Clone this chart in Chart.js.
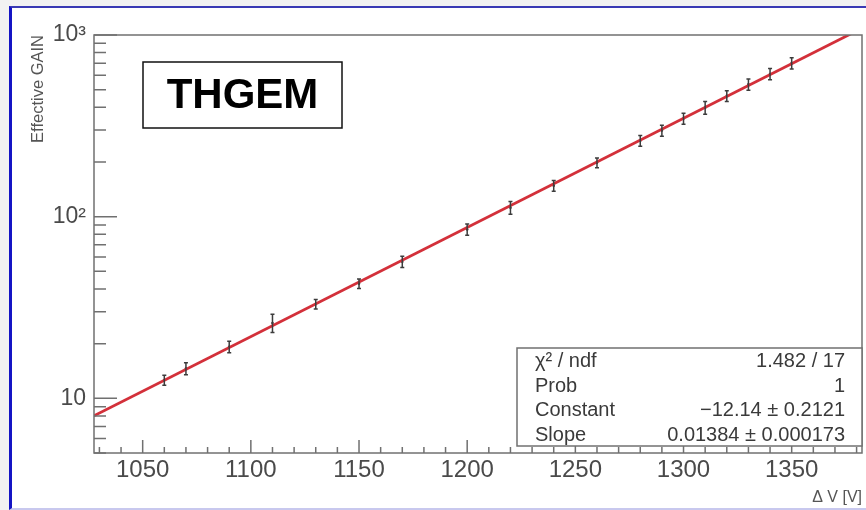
<!DOCTYPE html>
<html>
<head>
<meta charset="utf-8">
<script src="https://cdn.jsdelivr.net/npm/chart.js@4.4.1/dist/chart.umd.min.js"></script>
<style>
  html, body { margin: 0; padding: 0; background: #f2f2f2; }
  #page { position: absolute; left: 9px; top: 6px; width: 900px; height: 500px;
          background: #fff; border-left: 3px solid #1414c4; border-top: 2px solid #3a3ab4;
          border-bottom: 2px solid #c8c8ee; }
  #gain { position: absolute; left: 0; top: 0; }
</style>
</head>
<body>
<div id="page"></div>
<canvas id="gain" width="866" height="510"></canvas>
<script>
// measured gain vs. applied voltage
var voltages = [1060, 1070, 1090, 1110, 1130, 1150, 1170, 1200, 1220, 1240, 1260, 1280, 1290, 1300, 1310, 1320, 1330, 1340, 1350];
var gains = [12.6, 14.6, 19.2, 26.0, 33.0, 42.8, 56.5, 85, 112, 148, 198, 262, 298, 347, 398, 462, 535, 610, 700];
var gainErrors = [0.8, 1.1, 1.4, 3.0, 2.0, 2.6, 4.0, 6, 9, 10, 12, 18, 21, 24, 32, 32, 38, 43, 50];

// axis ticks
var xTickValues = [1050, 1100, 1150, 1200, 1250, 1300, 1350];
var yTickValues = [10, 100, 1000];
var yTickLabels = ['10', '10\u00b2', '10\u00b3'];

// exponential fit: gain = exp(constant + slope * V)
var fitConstant = -12.14;
var fitConstantErr = 0.2121;
var fitSlope = 0.01384;
var fitSlopeErr = 0.000173;
var fitChi2 = 1.482;
var fitNdf = 17;
var fitProb = 1;
var fitRange = [1027.5, 1382.5];

var FONT = "'Liberation Sans', Arial, Helvetica, sans-serif";
Chart.defaults.font.family = FONT;

var points = voltages.map(function (v, i) { return { x: v, y: gains[i] }; });
var fitLine = fitRange.map(function (v) { return { x: v, y: Math.exp(fitConstant + fitSlope * v) }; });

var statsLabels = ['\u03c7\u00b2 / ndf', 'Prob', 'Constant', 'Slope'];
var statsValues = [
  fitChi2.toFixed(3) + ' / ' + fitNdf,
  String(fitProb),
  '\u2212' + Math.abs(fitConstant).toFixed(2) + ' \u00b1 ' + fitConstantErr,
  fitSlope + ' \u00b1 ' + fitSlopeErr.toFixed(6)
];

// ROOT style frame, inner ticks, error bars, label and stats boxes
var rootStyle = {
  id: 'rootStyle',
  afterDatasetsDraw: function (chart) {
    var ctx = chart.ctx, x = chart.scales.x, y = chart.scales.y;
    ctx.save();
    ctx.strokeStyle = '#3c3c3c';
    ctx.lineWidth = 1.5;
    voltages.forEach(function (v, i) {
      var px = x.getPixelForValue(v);
      var top = y.getPixelForValue(gains[i] + gainErrors[i]);
      var bot = y.getPixelForValue(gains[i] - gainErrors[i]);
      ctx.beginPath();
      ctx.moveTo(px, top); ctx.lineTo(px, bot);
      ctx.moveTo(px - 2, top); ctx.lineTo(px + 2, top);
      ctx.moveTo(px - 2, bot); ctx.lineTo(px + 2, bot);
      ctx.stroke();
    });
    ctx.restore();
  },
  afterDraw: function (chart) {
    var ctx = chart.ctx, a = chart.chartArea, x = chart.scales.x, y = chart.scales.y;
    ctx.save();

    // frame
    ctx.strokeStyle = '#707070';
    ctx.lineWidth = 1.5;
    ctx.strokeRect(a.left, a.top, a.right - a.left, a.bottom - a.top);

    // x ticks every 10, long every 50
    ctx.beginPath();
    for (var v = 1030; v <= 1380; v += 10) {
      var px = x.getPixelForValue(v);
      var len = v % 50 === 0 ? 13 : 6;
      ctx.moveTo(px, a.bottom); ctx.lineTo(px, a.bottom - len);
    }
    // y ticks, long at each decade
    [1, 10, 100].forEach(function (d) {
      for (var k = 1; k <= 10; k++) {
        var val = k * d;
        if (val < y.min || val > y.max) continue;
        var py = y.getPixelForValue(val);
        var l = (k === 1 || k === 10) ? 23 : 12;
        ctx.moveTo(a.left, py); ctx.lineTo(a.left + l, py);
      }
    });
    ctx.stroke();

    // title box
    var bx = a.left + 49, by = a.top + 27;
    ctx.fillStyle = '#fff';
    ctx.fillRect(bx, by, 199, 66);
    ctx.strokeStyle = '#111';
    ctx.lineWidth = 1.5;
    ctx.strokeRect(bx, by, 199, 66);
    ctx.fillStyle = '#000';
    ctx.font = 'bold 42px ' + FONT;
    ctx.textAlign = 'center';
    ctx.textBaseline = 'alphabetic';
    ctx.fillText('THGEM', bx + 99.5, by + 46);

    // fit statistics box
    var sx = 517, sy = 348, sw = a.right - sx, sh = 98;
    ctx.fillStyle = '#fff';
    ctx.fillRect(sx, sy, sw, sh);
    ctx.strokeStyle = '#707070';
    ctx.lineWidth = 1.5;
    ctx.strokeRect(sx, sy, sw, sh);
    ctx.fillStyle = '#3a3a3a';
    ctx.font = '20px ' + FONT;
    statsLabels.forEach(function (t, i) {
      var base = sy + 19 + i * 24.5;
      ctx.textAlign = 'left';
      ctx.fillText(t, sx + 18, base);
      ctx.textAlign = 'right';
      ctx.fillText(statsValues[i], a.right - 17, base);
    });
    ctx.restore();
  }
};

new Chart(document.getElementById('gain'), {
  type: 'scatter',
  data: {
    datasets: [{
      type: 'line',
      data: fitLine,
      borderColor: '#d3303a',
      borderWidth: 2.8,
      pointRadius: 0,
      tension: 0
    }, {
      data: points,
      backgroundColor: '#333',
      borderColor: '#333',
      pointRadius: 1.3,
      pointBorderWidth: 0
    }]
  },
  options: {
    responsive: false,
    animation: false,
    devicePixelRatio: 1,
    layout: { padding: { top: 35, right: 3, left: 0, bottom: 0 } },
    plugins: { legend: { display: false }, tooltip: { enabled: false } },
    scales: {
      x: {
        type: 'linear',
        min: fitRange[0],
        max: fitRange[1],
        grid: { display: false, drawTicks: false },
        border: { display: false },
        afterBuildTicks: function (s) { s.ticks = xTickValues.map(function (v) { return { value: v }; }); },
        afterFit: function (s) { s.height = 57; },
        ticks: { color: '#4a4a4a', font: { size: 24 }, padding: 3, maxRotation: 0, callback: function (v) { return String(v); } },
        title: { display: true, text: '\u0394 V [V]', align: 'end', color: '#555', font: { size: 16 }, padding: { top: 0, bottom: 3 } }
      },
      y: {
        type: 'logarithmic',
        min: 5,
        max: 1000,
        grid: { display: false, drawTicks: false },
        border: { display: false },
        afterBuildTicks: function (s) { s.ticks = yTickValues.map(function (v) { return { value: v }; }); },
        afterFit: function (s) { s.width = 94; },
        ticks: { color: '#4a4a4a', font: { size: 23 }, padding: 8, callback: function (v) { var i = yTickValues.indexOf(v); return i < 0 ? '' : yTickLabels[i]; } },
        title: { display: true, text: 'Effective GAIN', align: 'end', color: '#555', font: { size: 16.5 }, padding: { top: 29, bottom: 0 } }
      }
    }
  },
  plugins: [rootStyle]
});
</script>
</body>
</html>
